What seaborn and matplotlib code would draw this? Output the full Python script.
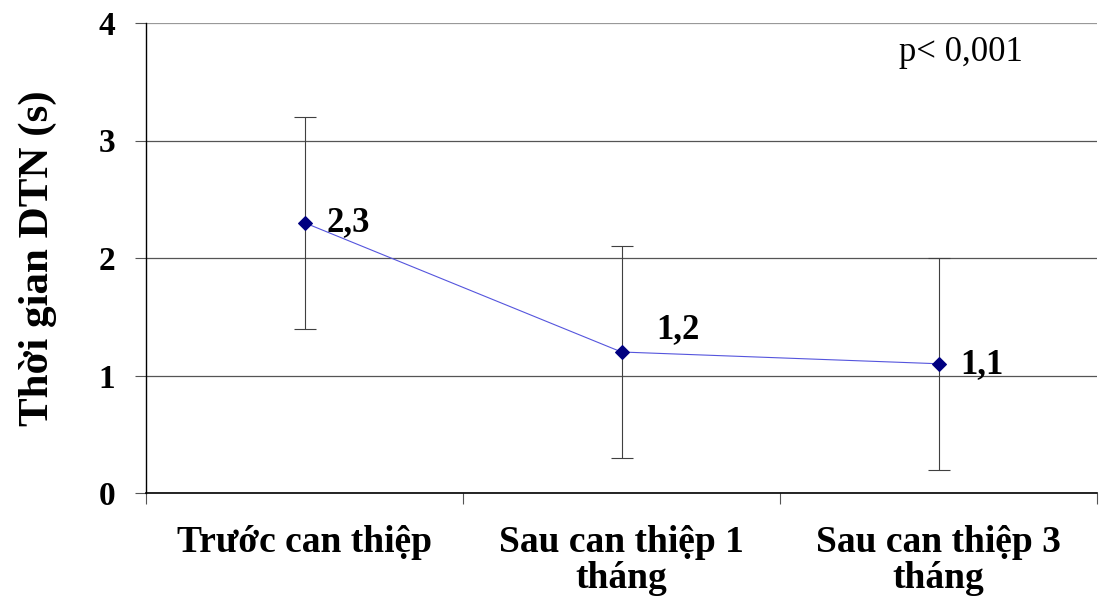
import matplotlib
matplotlib.use("Agg")
import matplotlib.pyplot as plt
import seaborn as sns
import pandas as pd
import numpy as np

categories = ["Trước can thiệp", "Sau can thiệp 1\ntháng", "Sau can thiệp 3\ntháng"]
means = [2.3, 1.2, 1.1]
lower = [1.4, 0.3, 0.2]
upper = [3.2, 2.1, 2.0]
value_labels = ["2,3", "1,2", "1,1"]
y_ticks = [0, 1, 2, 3, 4]

sns.set_theme(style="white")
plt.rcParams['font.family'] = ['Liberation Serif', 'DejaVu Serif']
plt.rcParams['text.color'] = 'black'
plt.rcParams['xtick.color'] = 'black'
plt.rcParams['ytick.color'] = 'black'
plt.rcParams['axes.labelcolor'] = 'black'

fig = plt.figure(figsize=(11, 5.97), dpi=100)
ax = fig.add_axes([146/1100, 1 - 493/597, (1097-146)/1100, (493-23)/597])

pos = np.arange(len(categories))
df = pd.DataFrame({"x": pos, "y": means})

ax.errorbar(pos, means,
            yerr=[np.array(means) - np.array(lower), np.array(upper) - np.array(means)],
            fmt="none", ecolor="#404040", elinewidth=0.8, capsize=8, capthick=0.8, zorder=2)
sns.lineplot(data=df, x="x", y="y", ax=ax, color="#5555dd", linewidth=0.8,
             marker="D", markersize=7, markerfacecolor="#000080", markeredgecolor="#000080", zorder=3)

offsets = [(0.07, 0.0), (0.11, 0.19), (0.07, -0.01)]
for i, (lab, (dx, dy)) in enumerate(zip(value_labels, offsets)):
    ax.text(pos[i] + dx, means[i] + dy, lab, fontsize=25, fontweight="bold",
            va="center", ha="left", color="black", zorder=4)

ax.set_xlim(-0.5, 2.5)
ax.set_ylim(0, 4)
ax.set_yticks(y_ticks)
ax.set_yticklabels([str(t) for t in y_ticks], fontsize=24, fontweight="bold")
ax.set_xticks(pos)
ax.set_xticklabels(categories, fontsize=27, fontweight="bold", linespacing=1.05)
ax.tick_params(axis="x", length=0, pad=23)
ax.set_xticks([-0.5, 0.5, 1.5, 2.5], minor=True)
ax.tick_params(axis="x", which="minor", length=8, color="#555555", width=0.8, bottom=True, direction="out")
ax.tick_params(axis="y", length=8, color="#555555", width=0.8, left=True, direction="out", pad=14)

ax.yaxis.grid(True, color="#555555", linewidth=0.9)
ax.get_ygridlines()[-1].set_color("#999999")
for sp in ["top", "right"]:
    ax.spines[sp].set_visible(False)
ax.spines["left"].set_color("black")
ax.spines["bottom"].set_color("black")
ax.spines["left"].set_linewidth(1.0)
ax.spines["bottom"].set_linewidth(1.2)
ax.set_xlabel("")
ax.set_ylabel("Thời gian DTN (s)", fontsize=31, fontweight="bold", labelpad=30)

ax.text(2.07, 3.75, "p< 0,001", fontsize=25, ha="center", va="center")

fig.savefig("out.png", dpi=100)
